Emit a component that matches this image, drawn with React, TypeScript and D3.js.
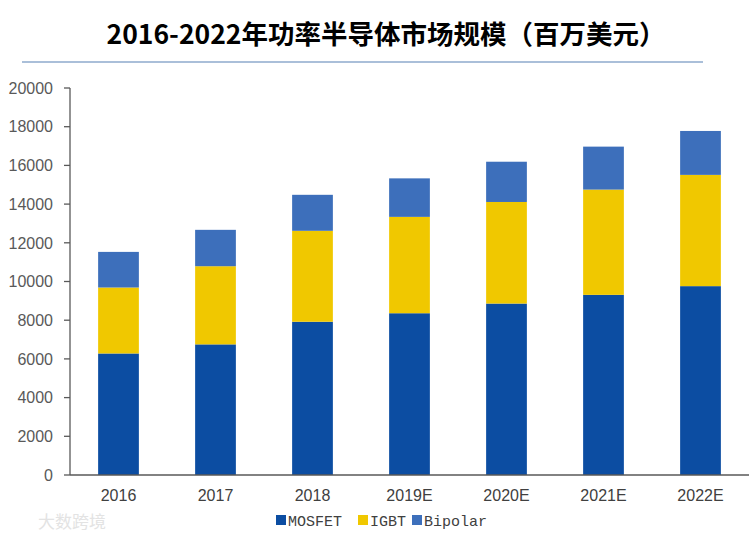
import * as d3 from 'd3';

const years = ['2016', '2017', '2018', '2019E', '2020E', '2021E', '2022E'];
const mosfet = [6280, 6750, 7920, 8360, 8860, 9310, 9760];
const igbt = [3410, 4040, 4700, 4980, 5250, 5440, 5750];
const bipolar = [1840, 1880, 1860, 1990, 2080, 2220, 2270];
const seriesNames = ['MOSFET', 'IGBT', 'Bipolar'];
const colors = ['#0c4da2', '#f0c800', '#3d6fbb'];
const yTicks = [0, 2000, 4000, 6000, 8000, 10000, 12000, 14000, 16000, 18000, 20000];

const W = 756;
const H = 538;
const margin = { left: 70, right: 7, top: 88, bottom: 63 };

export default function App() {
  const rows = years.map((y, i) => ({
    year: y,
    MOSFET: mosfet[i],
    IGBT: igbt[i],
    Bipolar: bipolar[i],
  }));
  const stacked = d3.stack<any>().keys(seriesNames)(rows);

  const x = d3
    .scaleBand()
    .domain(years)
    .range([margin.left, W - margin.right])
    .paddingInner(0.58)
    .paddingOuter(0.29);
  const y = d3
    .scaleLinear()
    .domain([0, 20000])
    .range([H - margin.bottom, margin.top]);

  const axisColor = '#595959';
  const textColor = '#404040';
  const baseY = y(0);

  // legend layout
  const legendItems = [
    { name: 'MOSFET', x: 276 },
    { name: 'IGBT', x: 358 },
    { name: 'Bipolar', x: 412 },
  ];

  return (
    <div style={{ position: 'absolute', left: 0, top: 0 }}>
      <svg width={W} height={H} style={{ display: 'block', background: '#fff' }}>
        <text
          x={386}
          y={44}
          textAnchor="middle"
          fontFamily="'Noto Sans CJK SC', sans-serif"
          fontWeight={700}
          fontSize={26.5}
          fill="#000"
        >
          2016-2022年功率半导体市场规模（百万美元）
        </text>
        <line x1={22} x2={703} y1={62} y2={62} stroke="#8eaacc" strokeWidth={1.5} />

        {stacked.map((s, si) => (
          <g key={s.key} fill={colors[si]}>
            {s.map((d, i) => (
              <rect
                key={i}
                x={x(years[i])}
                width={x.bandwidth()}
                y={y(d[1])}
                height={y(d[0]) - y(d[1])}
              />
            ))}
          </g>
        ))}

        {/* y axis */}
        <line x1={margin.left} x2={margin.left} y1={y(20000)} y2={baseY} stroke={axisColor} strokeWidth={1.3} />
        {yTicks.map((t) => (
          <g key={t}>
            <line x1={margin.left - 6} x2={margin.left} y1={y(t)} y2={y(t)} stroke={axisColor} strokeWidth={1.3} />
            <text
              x={53}
              y={y(t)}
              dy="0.36em"
              textAnchor="end"
              fontFamily="'Liberation Sans', Arial, sans-serif"
              fontSize={16}
              fill={axisColor}
            >
              {t}
            </text>
          </g>
        ))}

        {/* x axis */}
        <line x1={margin.left} x2={W - margin.right} y1={baseY} y2={baseY} stroke={axisColor} strokeWidth={1.3} />
        {years.map((yr) => (
          <text
            key={yr}
            x={(x(yr) as number) + x.bandwidth() / 2}
            y={501}
            textAnchor="middle"
            fontFamily="'Liberation Sans', Arial, sans-serif"
            fontSize={16}
            fill={textColor}
          >
            {yr}
          </text>
        ))}

        {/* legend */}
        {legendItems.map((it, i) => (
          <g key={it.name}>
            <rect x={it.x} y={515} width={10} height={10} fill={colors[i]} />
            <text
              x={it.x + 12}
              y={526}
              fontFamily="'Liberation Mono', 'DejaVu Sans Mono', monospace"
              fontSize={15}
              fill={textColor}
            >
              {it.name}
            </text>
          </g>
        ))}

        <text
          x={38}
          y={528}
          fontFamily="'Noto Sans CJK SC', sans-serif"
          fontSize={17}
          fill="#e3e3e3"
        >
          大数跨境
        </text>
      </svg>
    </div>
  );
}
